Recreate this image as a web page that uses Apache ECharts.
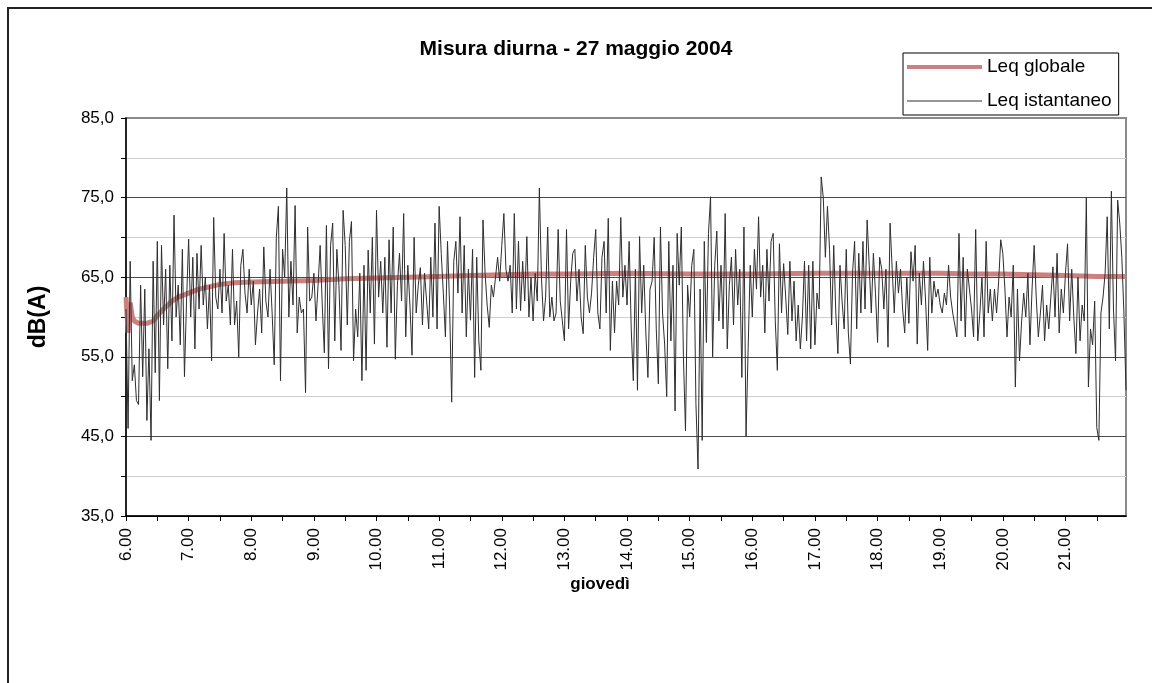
<!DOCTYPE html>
<html>
<head>
<meta charset="utf-8">
<script src="https://cdn.jsdelivr.net/npm/echarts@6/dist/echarts.min.js"></script>
<style>
html,body{margin:0;padding:0;background:#fff;}
#chart{width:1152px;height:683px;}
</style>
</head>
<body>
<div id="chart"></div>
<script>
// ---- data ----
const chartTitle = 'Misura diurna - 27 maggio 2004';
const xTitle = 'giovedì';
const yTitle = 'dB(A)';
const startHour = 6;      // first sample 6.00
const stepMinutes = 2;    // one sample every 2 minutes
const yTicks = [35, 45, 55, 65, 75, 85];

// Leq istantaneo, dB(A), every 2 minutes from 6.00 to 21.58
const leqIstantaneo = [
  61, 46, 67, 52, 54, 49.5, 49, 64, 52.5, 63.5,
  47, 56, 44.5, 67, 53, 69.5, 49.5, 69, 59, 66,
  53.5, 66.5, 57, 72.8, 60, 64, 56.5, 68.5, 52.5, 62,
  69.8, 60, 67.5, 56, 68, 61, 69, 61.5, 65, 58.5,
  64, 54.5, 72.5, 62.5, 61, 66, 60.5, 70.5, 62, 64,
  59, 68.5, 59, 62, 55, 66.5, 68.5, 63, 60.5, 66,
  61.5, 64.5, 56.5, 60.5, 63.5, 58, 68.8, 62, 60, 66,
  60.5, 54, 70, 73.9, 52, 68.5, 65, 76.2, 60, 67,
  61.5, 74, 58, 62.5, 60.5, 61, 50.5, 71.3, 62, 62.5,
  65.5, 59.5, 64, 69, 61.5, 55.5, 71.5, 53.5, 69, 71.8,
  57, 68.5, 64, 55.8, 73.4, 69, 59, 69.5, 72, 54.5,
  61, 57.5, 65.5, 52, 66.5, 53.3, 68.4, 60.5, 70, 56.6,
  73.4, 62.5, 67, 60.5, 67.5, 56.2, 69.7, 60.5, 71.3, 54.7,
  64, 68, 62, 73, 57.5, 66.5, 61.5, 55.2, 70, 60.5,
  64, 66.2, 59, 65.5, 62, 58.5, 67.5, 60, 71.8, 58.5,
  73.9, 68, 63, 57.5, 69.5, 61.5, 49.3, 67, 69.5, 63,
  72.6, 60.5, 69, 57.5, 66, 59.6, 68.5, 52.4, 67.5, 57,
  53.3, 72.2, 65.5, 61.5, 58.7, 64, 62.5, 65, 67.5, 64.5,
  69, 73, 66, 64.5, 66.5, 60.5, 73, 61, 69.5, 60.8,
  67, 62, 70.1, 60, 65, 59.5, 65.5, 62, 76.2, 65,
  59.5, 62.5, 71.3, 60, 62.5, 59.5, 60.5, 71, 62, 59.5,
  57, 71, 58.5, 64.5, 68, 68.5, 62, 66, 60, 57.9,
  69, 62.5, 60.5, 63, 67.5, 71, 60.5, 58.5, 67.5, 69.5,
  60.5, 72.4, 55.8, 64.5, 58, 64.5, 61.5, 72.5, 62.5, 66.5,
  61.5, 69.5, 58.5, 52, 66, 50.8, 70.1, 60.5, 66.5, 58,
  52.4, 63.5, 64.5, 70, 58.5, 51.6, 71.3, 60.5, 56.6, 50,
  69.5, 57, 66.5, 48.2, 70.5, 64, 71.3, 55, 45.7, 64,
  60, 66.5, 68.5, 49.1, 40.9, 63.5, 44.5, 69.5, 56.8, 70.5,
  75.1, 55, 66.5, 70.8, 59.5, 66.5, 58.5, 73, 56, 64,
  67.5, 59, 68.5, 61.5, 66, 52.4, 71.3, 45, 56, 66.5,
  60, 68.5, 63.5, 72.6, 62.5, 66.5, 58, 68.5, 62, 69.5,
  70.5, 59.5, 53.3, 69.2, 60.5, 66.7, 62.5, 57.8, 67, 59.5,
  64.5, 57, 61.5, 56, 60, 67, 57, 66.5, 56, 67,
  56.5, 63, 61, 77.6, 75, 67.5, 73.9, 68.5, 59, 69,
  60.5, 55.4, 66.5, 62, 58.5, 68.5, 58, 54.1, 65.5, 69.5,
  58.5, 68, 60.5, 69.5, 61, 72.2, 66.5, 60.5, 68, 63,
  56.8, 67.5, 66, 61, 66, 56.2, 71.8, 66, 60.5, 67,
  63, 66, 61, 58, 65, 59.2, 68.2, 64.5, 69, 56.6,
  65.5, 61.5, 67, 62, 55.8, 67.5, 60.5, 64.5, 62.5, 63.5,
  61.5, 60.5, 63, 61.5, 66.5, 62.5, 60.5, 59, 57.5, 70.5,
  59.5, 67.5, 57.5, 66, 63.5, 61, 57.5, 71, 57, 60.5,
  65, 57.5, 69.5, 60.5, 63.5, 59.5, 63.5, 60.5, 64.5, 69.7,
  68, 63.5, 57.5, 62.5, 60, 66.5, 51.2, 63.5, 54.5, 59.5,
  63, 60, 65.5, 56.5, 63.5, 69, 62.5, 57.5, 60.5, 64,
  57, 61.5, 58.5, 62.5, 66.3, 60, 68, 58, 63.5, 60.5,
  65.5, 69.2, 59.5, 66, 60, 55.4, 65, 57, 61.5, 59.5,
  75, 51.2, 58.5, 56.5, 62, 46.1, 44.5, 60.5, 62.5, 65.5,
  72.6, 58.5, 75.8, 61, 54.5, 74.7, 71.8, 67.5, 60.5, 50.8
];

// Leq globale (running value), read at these times
const globaleTimes = ['6.00','6.02','6.04','6.06','6.08','6.12','6.20','6.26','6.30','6.36','6.44','6.50',
  '7.00','7.10','7.20','7.30','7.44','8.00','8.30','9.00','9.30','10.00','10.30','11.00','11.30',
  '12.00','12.30','13.00','14.00','15.00','16.00','17.00','18.00','19.00','19.30','20.00','20.30',
  '21.00','21.30','21.58'];
const globaleValues = [62.5, 58, 61.8, 60, 59.5, 59.2, 59.2, 59.5, 60.2, 61, 62, 62.5,
  63, 63.5, 63.8, 64.1, 64.3, 64.4, 64.5, 64.6, 64.8, 64.9, 65, 65.1, 65.2,
  65.3, 65.4, 65.4, 65.5, 65.4, 65.4, 65.5, 65.5, 65.5, 65.4, 65.4, 65.3,
  65.2, 65.1, 65.1];

// ---- build ----
const categories = leqIstantaneo.map((_, i) => {
  const t = startHour * 60 + i * stepMinutes;
  const h = Math.floor(t / 60), m = t % 60;
  return h + '.' + (m < 10 ? '0' + m : '' + m);
});
const globaleFull = categories.map(() => null);
globaleTimes.forEach((t, k) => {
  const idx = categories.indexOf(t);
  if (idx >= 0) globaleFull[idx] = globaleValues[k];
});

const FONT = '"Liberation Sans", Arial, sans-serif';
const chart = echarts.init(document.getElementById('chart'), null, {renderer: 'canvas'});
chart.setOption({
  animation: false,
  backgroundColor: '#fff',
  textStyle: {fontFamily: FONT, color: '#000'},
  title: {
    text: chartTitle, left: 'center', top: 34,
    textStyle: {fontFamily: FONT, fontSize: 21, fontWeight: 'bold', color: '#000'}
  },
  legend: {
    orient: 'vertical', left: 903, top: 53,
    padding: [3, 7, 3, 4], itemGap: 12,
    itemWidth: 75, itemHeight: 14,
    borderColor: '#000', borderWidth: 1, backgroundColor: '#fff',
    textStyle: {fontFamily: FONT, fontSize: 19, color: '#000', lineHeight: 22},
    data: [
      {name: 'Leq globale', icon: 'path://M0 0H75V4H0Z'},
      {name: 'Leq istantaneo', icon: 'path://M0 0H75V1H0Z'}
    ]
  },
  grid: {
    left: 126, right: 26, top: 118, bottom: 167,
    show: true, borderColor: '#8a8a8a', borderWidth: 2, backgroundColor: '#fff'
  },
  xAxis: {
    type: 'category', data: categories, boundaryGap: false,
    axisLine: {lineStyle: {color: '#000', width: 1.5}},
    axisTick: {show: true, interval: 14, length: 5, lineStyle: {color: '#000'}},
    axisLabel: {interval: 29, rotate: 90, margin: 12, fontFamily: FONT, fontSize: 17, color: '#000'},
    splitLine: {show: false}
  },
  yAxis: {
    type: 'value', min: yTicks[0], max: yTicks[yTicks.length - 1], interval: 10,
    name: yTitle, nameLocation: 'middle', nameRotate: 90, nameGap: 76,
    nameTextStyle: {fontFamily: FONT, fontSize: 23, fontWeight: 'bold', color: '#000'},
    axisLine: {show: true, lineStyle: {color: '#000', width: 1.5}},
    axisTick: {show: true, length: 5, lineStyle: {color: '#000'}},
    minorTick: {show: true, splitNumber: 2, length: 5, lineStyle: {color: '#000'}},
    axisLabel: {margin: 12, fontFamily: FONT, fontSize: 17, color: '#000',
      formatter: v => v.toFixed(1).replace('.', ',')},
    splitLine: {show: true, lineStyle: {color: ['#000', '#4a4a4a', '#4a4a4a', '#4a4a4a', '#4a4a4a', '#8a8a8a'], width: 1}},
    minorSplitLine: {show: true, lineStyle: {color: '#cfcfcf', width: 1}}
  },
  graphic: [
    {type: 'rect', shape: {x: 8, y: 8, width: 1300, height: 900},
     style: {fill: 'none', stroke: '#222', lineWidth: 2}, silent: true, z: 100},
    {type: 'text', x: 600, y: 584,
     style: {text: xTitle, fill: '#000', font: 'bold 17px ' + FONT, textAlign: 'center', textVerticalAlign: 'middle'}}
  ],
  series: [
    {
      name: 'Leq globale', type: 'line', data: globaleFull, connectNulls: true,
      symbol: 'none', z: 2,
      lineStyle: {color: '#cc8080', width: 5},
      itemStyle: {color: '#cc8080'}
    },
    {
      name: 'Leq istantaneo', type: 'line', data: leqIstantaneo,
      symbol: 'none', z: 3, sampling: null,
      lineStyle: {color: '#2e2e2e', width: 1},
      itemStyle: {color: '#2e2e2e'}
    }
  ]
});
</script>
</body>
</html>
